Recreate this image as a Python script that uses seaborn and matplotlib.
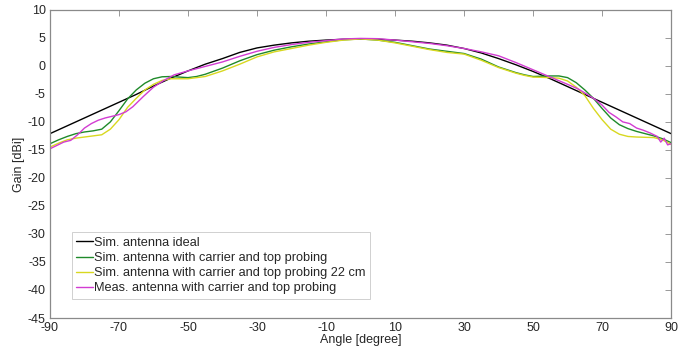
import numpy as np
import pandas as pd
import matplotlib
matplotlib.use("Agg")
import matplotlib.pyplot as plt
from matplotlib.lines import Line2D
import seaborn as sns

# ---------------- data ----------------
ideal_angles = [-90, -85, -80, -75, -70, -65, -60, -55, -50, -45, -40, -35, -30, -25, -20, -15, -10, -5,
                0, 5, 10, 15, 20, 25, 30, 35, 40, 45, 50, 55, 60, 65, 70, 75, 80, 85, 90]
ideal = [-12.1, -10.7, -9.3, -7.9, -6.5, -5.1, -3.6, -2.2, -0.9, 0.3, 1.3, 2.4, 3.2, 3.7, 4.1, 4.4, 4.6, 4.75,
         4.8, 4.75, 4.6, 4.4, 4.1, 3.7, 3.1, 2.3, 1.3, 0.2, -1.0, -2.3, -3.7, -5.1, -6.5, -7.9, -9.3, -10.7, -12.1]

sim_angles = [-90, -87.5, -85, -82.5, -80, -77.5, -75, -72.5, -70, -67.5, -65, -62.5, -60, -57.5, -55, -52.5,
              -50, -47.5, -45, -40, -35, -30, -25, -20, -15, -10, -5, 0, 5, 10, 15, 20, 25, 30, 35, 40,
              45, 47.5, 50, 52.5, 55, 57.5, 60, 62.5, 65, 67.5, 70, 72.5, 75, 77.5, 80, 82.5, 85, 87.5, 90]

carrier = [-13.9, -13.2, -12.6, -12.1, -11.8, -11.6, -11.3, -10.0, -8.0, -5.9, -4.3, -3.1, -2.3, -1.95, -1.9, -2.0,
           -2.1, -1.9, -1.5, -0.4, 0.9, 2.0, 2.8, 3.4, 3.9, 4.3, 4.65, 4.8, 4.6, 4.2, 3.6, 3.0, 2.6, 2.2, 1.2, -0.2,
           -1.2, -1.6, -1.9, -1.85, -1.8, -1.8, -2.1, -3.0, -4.3, -5.8, -7.6, -9.3, -10.5, -11.2, -11.7, -12.1, -12.5, -13.0, -13.7]

carrier22 = [-14.5, -13.8, -13.2, -12.9, -12.7, -12.5, -12.3, -11.3, -9.6, -7.4, -5.8, -4.3, -3.3, -2.6, -2.3, -2.3,
             -2.3, -2.1, -1.9, -0.9, 0.3, 1.6, 2.5, 3.1, 3.7, 4.2, 4.6, 4.8, 4.6, 4.1, 3.5, 2.9, 2.4, 2.1, 1.0, -0.3,
             -1.3, -1.7, -2.0, -2.05, -2.1, -2.2, -2.7, -3.8, -5.3, -7.6, -9.6, -11.3, -12.2, -12.6, -12.7, -12.75, -12.8, -13.2, -14.0]

meas_angles = [-90, -88, -86, -84, -82, -80, -78, -76, -74, -72, -70, -68, -66, -63, -60, -57, -54, -50, -45, -40,
               -35, -30, -25, -20, -15, -10, -5, 0, 5, 10, 15, 20, 25, 30, 35, 40, 45, 50, 55, 60, 63, 66, 68,
               70, 72, 74, 76, 78, 80, 82, 84, 86, 87, 88, 89, 90]
meas = [-14.8, -14.2, -13.6, -13.3, -12.3, -11.1, -10.3, -9.7, -9.3, -9.0, -8.7, -8.2, -7.3, -5.5, -3.8, -2.6, -1.6, -0.9, -0.1, 0.7,
        1.7, 2.6, 3.3, 3.8, 4.2, 4.5, 4.8, 4.9, 4.85, 4.6, 4.3, 4.0, 3.6, 3.1, 2.5, 1.8, 0.6, -0.7, -2.0, -3.3, -4.1, -5.2, -6.0,
        -7.0, -8.3, -9.1, -10.0, -10.3, -11.1, -11.5, -12.0, -12.6, -13.6, -12.9, -14.1, -13.9]

labels = ["Sim. antenna ideal",
          "Sim. antenna with carrier and top probing",
          "Sim. antenna with carrier and top probing 22 cm",
          "Meas. antenna with carrier and top probing"]
colors = ["#000000", "#1f8a2a", "#d8d820", "#d23cd2"]

xticks = [-90, -70, -50, -30, -10, 10, 30, 50, 70, 90]
yticks = list(range(-45, 11, 5))

# ---------------- frame ----------------
frames = []
for lab, xs, ys in [(labels[0], ideal_angles, ideal), (labels[1], sim_angles, carrier),
                    (labels[2], sim_angles, carrier22), (labels[3], meas_angles, meas)]:
    frames.append(pd.DataFrame({"Angle": xs, "Gain": ys, "Series": lab}))
df = pd.concat(frames, ignore_index=True)

sns.set_style("white")
plt.rcParams["font.family"] = ["Liberation Sans", "DejaVu Sans"]
plt.rcParams["axes.unicode_minus"] = False

fig = plt.figure(figsize=(6.94, 3.51), dpi=100)
ax = fig.add_axes([0.072, 0.094, 0.895, 0.878])

sns.lineplot(data=df, x="Angle", y="Gain", hue="Series", hue_order=labels,
             palette=dict(zip(labels, colors)), estimator=None, sort=False,
             linewidth=1.0, ax=ax, legend=False)

ax.set_xlim(-90, 90)
ax.set_ylim(-45, 10)
ax.set_xticks(xticks)
ax.set_yticks(yticks)
ax.tick_params(direction="in", top=True, right=True, length=4, width=0.6,
               color="#888888", labelsize=9, pad=3)
for s in ax.spines.values():
    s.set_color("#8a8a8a")
    s.set_linewidth(0.9)

ax.set_xlabel("Angle [degree]", fontsize=9, labelpad=0)
ax.set_ylabel("Gain [dBi]", fontsize=9, labelpad=2)

handles = [Line2D([], [], color=c, linewidth=1.0) for c in colors]
leg = ax.legend(handles, labels, loc="lower left", bbox_to_anchor=(0.035, 0.062), fontsize=9.2,
                handlelength=1.3, handletextpad=0.1, borderaxespad=0,
                labelspacing=0.25, borderpad=0.35, frameon=True, fancybox=False)
leg.get_frame().set_edgecolor("#bbbbbb")
leg.get_frame().set_linewidth(0.6)

fig.savefig("out.png", dpi=100)
